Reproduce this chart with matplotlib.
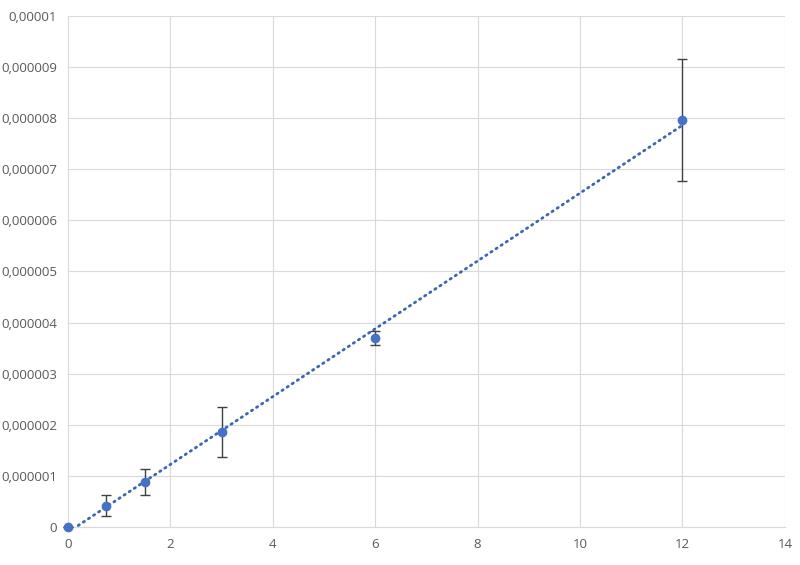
import numpy as np
import matplotlib.pyplot as plt

x = [0, 0.75, 1.5, 3, 6, 12]
y = [0, 0.42e-6, 0.88e-6, 1.85e-6, 3.70e-6, 7.96e-6]
err = [0, 0.20e-6, 0.26e-6, 0.49e-6, 0.14e-6, 1.19e-6]

x_ticks = [0, 2, 4, 6, 8, 10, 12, 14]
y_ticks = [0, 1e-6, 2e-6, 3e-6, 4e-6, 5e-6, 6e-6, 7e-6, 8e-6, 9e-6, 1e-5]
y_tick_labels = ['0', '0,000001', '0,000002', '0,000003', '0,000004', '0,000005',
                 '0,000006', '0,000007', '0,000008', '0,000009', '0,00001']

plt.rcParams['font.family'] = ['Open Sans', 'DejaVu Sans']

fig = plt.figure(figsize=(8, 5.65), dpi=100)
ax = fig.add_axes([0.085, 0.0673, 0.896, 0.9044])

blue = '#4472C4'
grid = '#d9d9d9'

# linear trendline (least squares over the points)
slope, icpt = np.polyfit(x, y, 1)
tx = np.linspace(0, max(x), 200)
ax.plot(tx, slope * tx + icpt, color='#3d66b0', lw=2, linestyle=(0, (0.5, 1.7)),
        dash_capstyle='round', zorder=3)

eb = ax.errorbar(x, y, yerr=err, fmt='none', ecolor='#404040', elinewidth=1,
                 capsize=3.5, capthick=1, zorder=4)
for art in eb.get_children():
    art.set_clip_on(False)
ax.plot(x, y, 'o', color=blue, ms=6, zorder=5, clip_on=False)

ax.set_xlim(0, 14)
ax.set_ylim(0, 1e-5)
ax.set_xticks(x_ticks)
ax.set_yticks(y_ticks)
ax.set_yticklabels(y_tick_labels)
ax.grid(True, color=grid, lw=0.8)
ax.set_axisbelow(True)

for s in ['top', 'right', 'left']:
    ax.spines[s].set_visible(False)
ax.spines['bottom'].set_color(grid)
ax.tick_params(length=0, colors='#595959', labelsize=9.5, pad=8)

fig.savefig('out.png', dpi=100)
